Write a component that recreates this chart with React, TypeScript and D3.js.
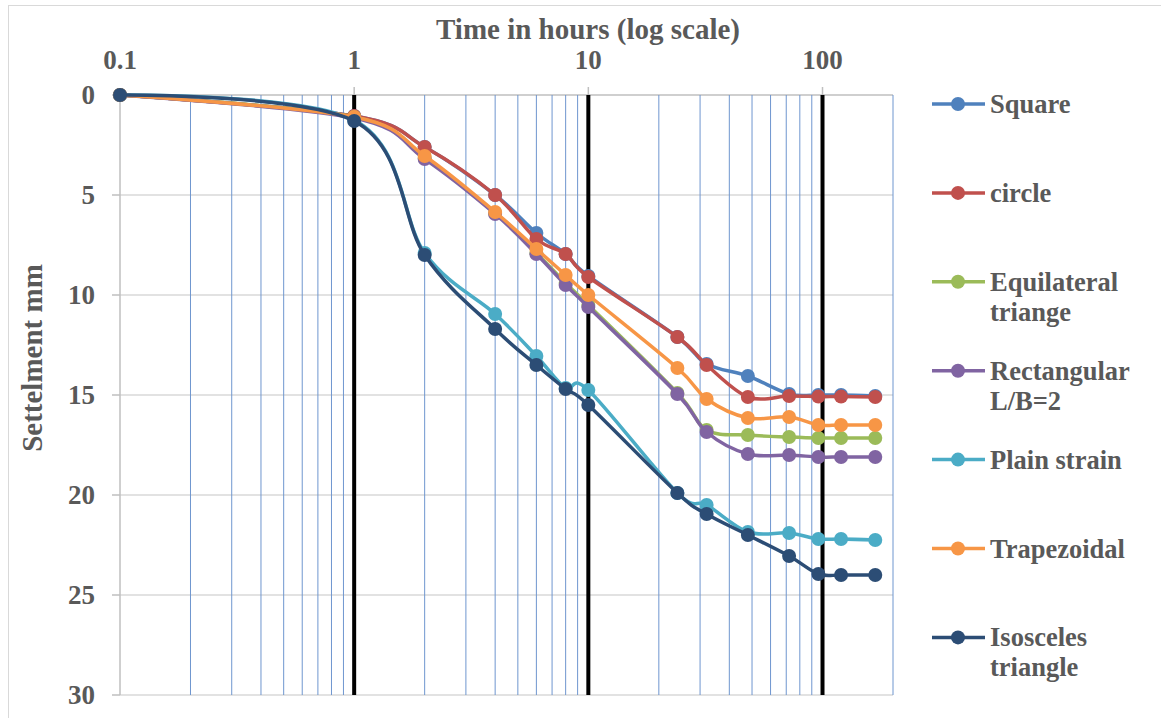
import React from "react";
import * as d3 from "d3";

// time in hours, log axis
const hours = [0.1, 1, 2, 4, 6, 8, 10, 24, 32, 48, 72, 96, 120, 168];

const square = [0, 1.05, 2.6, 5.0, 6.9, 7.95, 9.05, 12.1, 13.45, 14.05, 14.95, 15.0, 15.0, 15.05];
const circle = [0, 1.05, 2.6, 5.0, 7.2, 7.95, 9.1, 12.1, 13.5, 15.1, 15.05, 15.08, 15.08, 15.1];
const equilateral = [0, 1.1, 3.15, 5.9, 7.9, 9.4, 10.5, 14.9, 16.75, 17.0, 17.1, 17.15, 17.15, 17.15];
const rectangular = [0, 1.15, 3.2, 5.95, 7.95, 9.5, 10.6, 14.95, 16.85, 17.95, 18.0, 18.1, 18.1, 18.1];
const plainStrain = [0, 1.25, 7.9, 10.95, 13.05, 14.65, 14.75, 19.9, 20.5, 21.85, 21.9, 22.2, 22.2, 22.25];
const trapezoidal = [0, 1.1, 3.05, 5.85, 7.7, 9.0, 10.0, 13.65, 15.2, 16.15, 16.1, 16.5, 16.5, 16.5];
const isosceles = [0, 1.3, 8.0, 11.7, 13.5, 14.7, 15.5, 19.9, 20.95, 22.0, 23.05, 23.95, 24.0, 24.0];

const seriesLabels = [
  ["Square"],
  ["circle"],
  ["Equilateral", "triange"],
  ["Rectangular", "L/B=2"],
  ["Plain strain"],
  ["Trapezoidal"],
  ["Isosceles", "triangle"],
];
const seriesValues = [square, circle, equilateral, rectangular, plainStrain, trapezoidal, isosceles];
const colors = ["#4F81BD", "#C0504D", "#9BBB59", "#8064A2", "#4BACC6", "#F79646", "#2C4D75"];

const majorTicks = [0.1, 1, 10, 100];
const minorTicks = [0.2, 0.3, 0.4, 0.5, 0.6, 0.7, 0.8, 0.9, 2, 3, 4, 5, 6, 7, 8, 9, 20, 30, 40, 50, 60, 70, 80, 90, 200];
const yTicks = [0, 5, 10, 15, 20, 25, 30];

const width = 1161;
const height = 718;
const textStyle = { fontFamily: '"Liberation Serif", "Times New Roman", Tinos, "DejaVu Serif", serif', fontWeight: 700 };
const textColor = "#595959";

const App = () => {
  const x = d3.scaleLog().domain([0.1, 200]).range([120, 893]);
  const y = d3.scaleLinear().domain([0, 30]).range([95, 695]);

  const line = d3
    .line<number>()
    .x((d, i) => x(hours[i]))
    .y((d) => y(d))
    .curve(d3.curveCatmullRom.alpha(0));

  const legendX = 932;
  const legendY = 104;
  const legendStep = 88.9;

  return (
    <svg
      width={width}
      height={height}
      style={{ position: "absolute", left: 0, top: 0, background: "#fff" }}
    >
      <rect x={8.5} y={5.5} width={1160} height={720} fill="#fff" stroke="#D9D9D9" />

      {/* horizontal gridlines */}
      {yTicks.map((t) => (
        <line key={"h" + t} x1={x(0.1)} x2={x(200)} y1={y(t)} y2={y(t)} stroke={t === 0 ? "#BFBFBF" : "#D9D9D9"} strokeWidth={1.5} />
      ))}

      {/* minor vertical gridlines */}
      {minorTicks.map((t) => (
        <line key={"m" + t} x1={x(t)} x2={x(t)} y1={y(0)} y2={y(30)} stroke="#6F96CF" strokeWidth={1} />
      ))}

      {/* y axis line and ticks */}
      <line x1={x(0.1)} x2={x(0.1)} y1={y(0)} y2={y(30)} stroke="#BFBFBF" strokeWidth={1.5} />
      {yTicks.map((t) => (
        <line key={"yt" + t} x1={112} x2={x(0.1)} y1={y(t)} y2={y(t)} stroke="#BFBFBF" strokeWidth={1.5} />
      ))}

      {/* major vertical gridlines */}
      {majorTicks.slice(1).map((t) => (
        <g key={"M" + t}>
          <line x1={x(t)} x2={x(t)} y1={y(0) - 8} y2={y(0)} stroke="#BFBFBF" strokeWidth={1.5} />
          <line x1={x(t)} x2={x(t)} y1={y(0)} y2={y(30)} stroke="#000" strokeWidth={4} />
        </g>
      ))}

      {/* top tick labels */}
      {majorTicks.map((t) => (
        <text key={"xl" + t} x={x(t)} y={69} textAnchor="middle" fontSize={27} fill={textColor} style={textStyle}>
          {t}
        </text>
      ))}

      {/* left tick labels */}
      {yTicks.map((t) => (
        <text key={"yl" + t} x={95} y={y(t) + 9} textAnchor="end" fontSize={27} fill={textColor} style={textStyle}>
          {t}
        </text>
      ))}

      <text x={588} y={39} textAnchor="middle" fontSize={29} fill={textColor} style={textStyle}>
        Time in hours (log scale)
      </text>
      <text transform={`translate(42,358) rotate(-90)`} textAnchor="middle" fontSize={29} fill={textColor} style={textStyle}>
        Settelment mm
      </text>

      {/* series */}
      {seriesValues.map((vals, si) => (
        <g key={"s" + si}>
          <path d={line(vals) || ""} fill="none" stroke={colors[si]} strokeWidth={3.5} strokeLinejoin="round" strokeLinecap="round" />
          {vals.map((v, i) => (
            <circle key={i} cx={x(hours[i])} cy={y(v)} r={7} fill={colors[si]} />
          ))}
        </g>
      ))}

      {/* legend */}
      {seriesLabels.map((lines, si) => {
        const ly = legendY + si * legendStep;
        return (
          <g key={"lg" + si}>
            <line x1={legendX} x2={legendX + 53} y1={ly} y2={ly} stroke={colors[si]} strokeWidth={3.5} />
            <circle cx={legendX + 26} cy={ly} r={7} fill={colors[si]} />
            {lines.map((s, li) => (
              <text key={li} x={990} y={ly + 9 + li * 30} fontSize={26.5} fill={textColor} style={textStyle}>
                {s}
              </text>
            ))}
          </g>
        );
      })}
    </svg>
  );
};

export default App;
